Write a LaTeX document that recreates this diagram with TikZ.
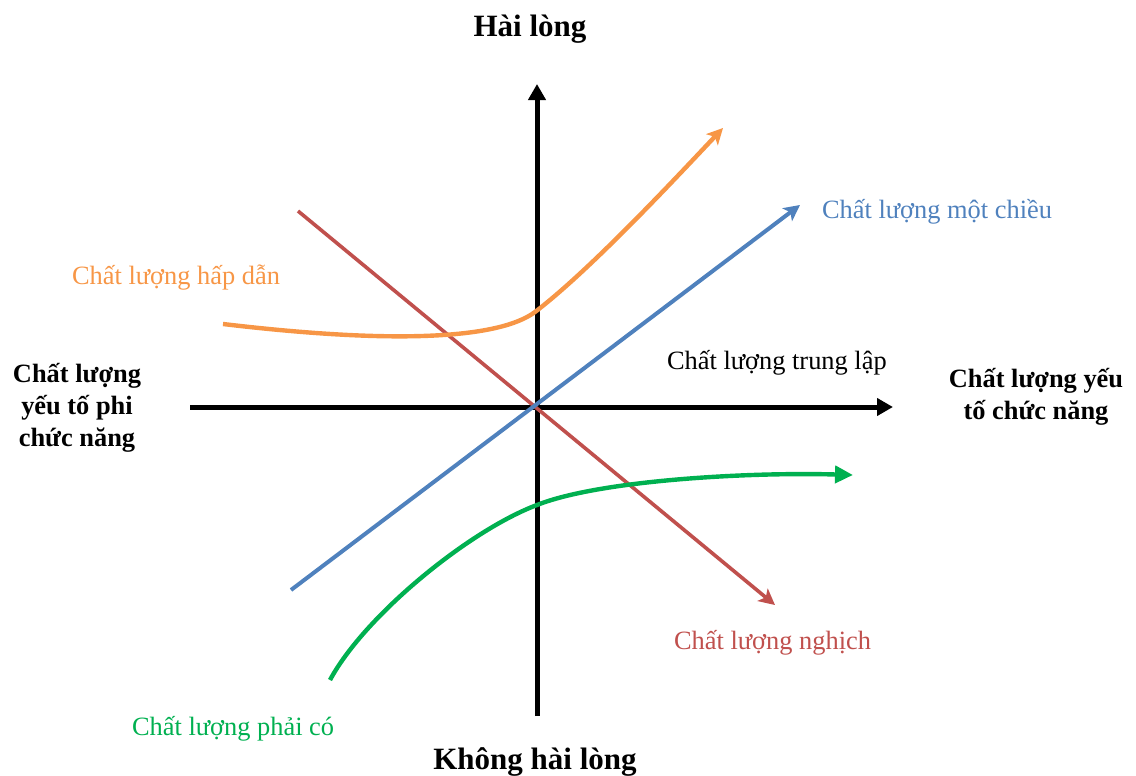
\documentclass[tikz,border=0pt]{standalone}
\usepackage{fontspec}
\setmainfont{Liberation Serif}
\usepackage{xcolor}
\usetikzlibrary{arrows.meta}
\definecolor{hapdan}{RGB}{247,150,70}
\definecolor{motchieu}{RGB}{79,129,189}
\definecolor{nghich}{RGB}{192,80,77}
\definecolor{phaico}{RGB}{0,176,80}

\begin{document}
\begin{tikzpicture}[x=0.5pt,y=-0.5pt,
  axis/.style={line width=2.5pt,-{Triangle[length=8pt,width=8.5pt]}},
  curve/.style={line width=2pt,-{Stealth[length=8pt,width=8pt,inset=2pt]}},
  title/.style={font=\fontsize{15.5}{18}\selectfont\bfseries,align=center},
  side/.style={font=\fontsize{13.2}{16}\selectfont\bfseries,align=center},
  lbl/.style={font=\fontsize{13.2}{16}\selectfont,anchor=west}]
  \useasboundingbox (0,0) rectangle (1136,776);
  % axes
  \coordinate (xl) at (190,407); \coordinate (xr) at (893,407);
  \coordinate (yb) at (537,716); \coordinate (yt) at (537,84);
  \draw[axis] (xl)--(xr);
  \draw[axis] (yb)--(yt);
  \node[title] (hl) at (530,29) {Hài lòng};
  \node[title] (khl) at (535,762) {Không hài lòng};
  \node[side] (phi) at (77,408) {Chất lượng\\yếu tố phi\\chức năng};
  \node[side] (cn) at (1036,397) {Chất lượng yếu\\tố chức năng};
  % quality lines
  \coordinate (r0) at (298,211); \coordinate (r1) at (775,605);
  \coordinate (b0) at (291,590); \coordinate (b1) at (800,205);
  \coordinate (o0) at (223,324); \coordinate (o1) at (535,312); \coordinate (o2) at (723,128);
  \coordinate (g0) at (330,680); \coordinate (g1) at (537,505); \coordinate (g2) at (853,475);
  \draw[curve,nghich,line width=1.8pt] (r0)--(r1);
  \draw[curve,motchieu] (b0)--(b1);
  \draw[curve,hapdan,line width=2.2pt] (o0) .. controls (400,345) and (500,338) .. (o1)
    .. controls (590,270) and (673,181) .. (o2);
  \draw[line width=2.2pt,phaico,-{Triangle[length=9pt,width=8.5pt]}] (g0) .. controls (365,615) and (470,530) .. (g1)
    .. controls (600,480) and (750,472) .. (g2);
  \node[lbl,text=motchieu] (mc) at (815,212) {Chất lượng một chiều};
  \node[lbl,text=hapdan] (hd) at (65,278) {Chất lượng hấp dẫn};
  \node[lbl] (tl) at (660,363) {Chất lượng trung lập};
  \node[lbl,text=nghich] (ng) at (667,643) {Chất lượng nghịch};
  \node[lbl,text=phaico] (pc) at (125,729) {Chất lượng phải có};
\end{tikzpicture}
\end{document}
